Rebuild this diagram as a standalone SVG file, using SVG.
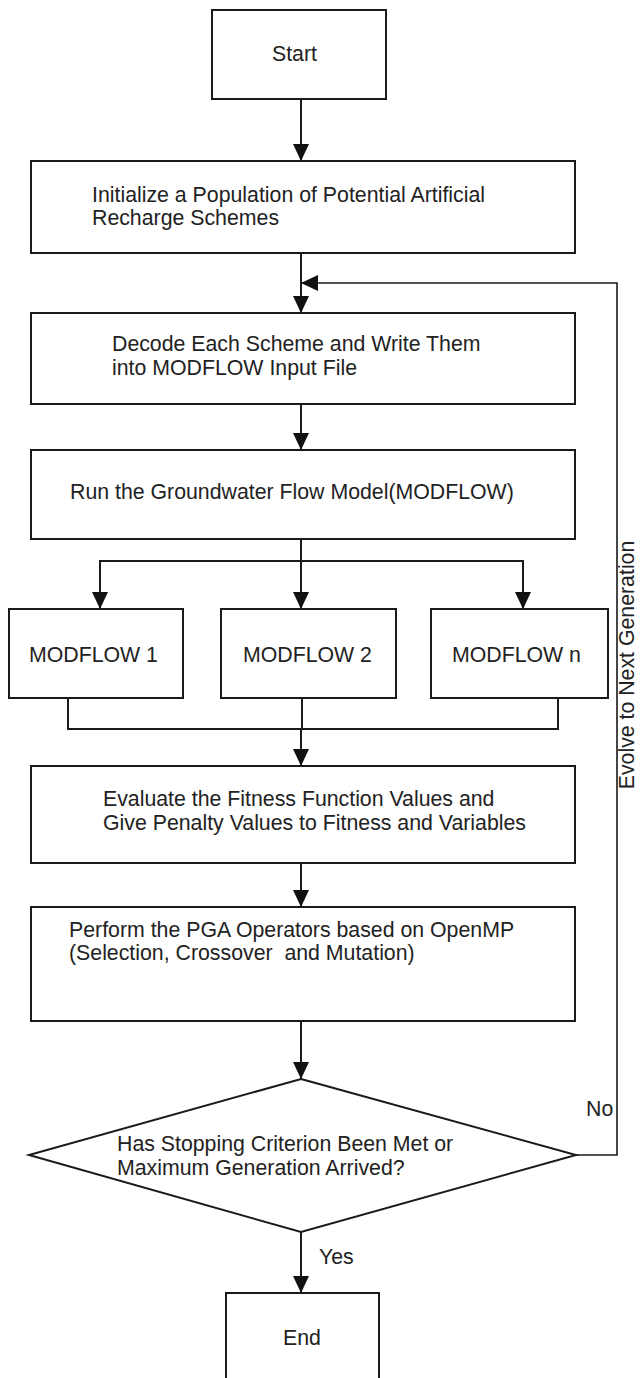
<svg xmlns="http://www.w3.org/2000/svg" width="644" height="1378" viewBox="0 0 644 1378">
<defs>
<style>
.box{fill:#fff;stroke:#1a1a1a;stroke-width:2}
.ln{fill:none;stroke:#1a1a1a;stroke-width:2}
.fb{fill:none;stroke:#1a1a1a;stroke-width:1.6}
.t{font-family:"Liberation Sans",Arial,sans-serif;font-size:21.3px;fill:#222;white-space:pre}
</style>
<marker id="ah" markerUnits="userSpaceOnUse" markerWidth="17" markerHeight="16" refX="17" refY="8" orient="auto" viewBox="0 0 17 16">
<path d="M0,0 L17,8 L0,16 z" fill="#111"/>
</marker>
</defs>
<rect width="644" height="1378" fill="#fff"/>
<g id="connectors">
<line class="ln" x1="301" y1="99" x2="301" y2="161" marker-end="url(#ah)"/>
<line class="ln" x1="301" y1="253" x2="301" y2="313" marker-end="url(#ah)"/>
<polyline class="fb" points="576,1155 617,1155 617,283 301,283" marker-end="url(#ah)"/>
<line class="ln" x1="301" y1="404" x2="301" y2="450" marker-end="url(#ah)"/>
<line class="ln" x1="301" y1="539" x2="301" y2="609" marker-end="url(#ah)"/>
<polyline class="ln" points="100,609 100,561 523,561 523,609"/>
<line class="ln" x1="100" y1="561" x2="100" y2="609" marker-end="url(#ah)"/>
<line class="ln" x1="523" y1="561" x2="523" y2="609" marker-end="url(#ah)"/>
<polyline class="ln" points="68,698 68,729 558,729 558,698"/>
<line class="ln" x1="302" y1="698" x2="302" y2="729"/>
<line class="ln" x1="301" y1="729" x2="301" y2="766" marker-end="url(#ah)"/>
<line class="ln" x1="301" y1="863" x2="301" y2="907" marker-end="url(#ah)"/>
<line class="ln" x1="301" y1="1021" x2="301" y2="1079" marker-end="url(#ah)"/>
<line class="ln" x1="301" y1="1232" x2="301" y2="1293" marker-end="url(#ah)"/>
<text class="t" x="586" y="1116">No</text>
<text class="t" x="319" y="1264">Yes</text>
<text class="t" transform="translate(634,665) rotate(-90)" text-anchor="middle">Evolve to Next Generation</text>
</g>
<g id="start">
<rect class="box" x="212" y="10" width="174" height="89"/>
<text class="t" x="272" y="61">Start</text>
</g>
<g id="init">
<rect class="box" x="31" y="161" width="544" height="92"/>
<text class="t" x="92" y="202">Initialize a Population of Potential Artificial</text>
<text class="t" x="92" y="225">Recharge Schemes</text>
</g>
<g id="decode">
<rect class="box" x="31" y="313" width="544" height="91"/>
<text class="t" x="112" y="351">Decode Each Scheme and Write Them</text>
<text class="t" x="112" y="375">into MODFLOW Input File</text>
</g>
<g id="run">
<rect class="box" x="31" y="450" width="544" height="89"/>
<text class="t" x="70" y="499">Run the Groundwater Flow Model(MODFLOW)</text>
</g>
<g id="modflow1">
<rect class="box" x="9" y="609" width="174" height="89"/>
<text class="t" x="29" y="662">MODFLOW 1</text>
</g>
<g id="modflow2">
<rect class="box" x="221" y="609" width="175" height="89"/>
<text class="t" x="243" y="662">MODFLOW 2</text>
</g>
<g id="modflown">
<rect class="box" x="431" y="609" width="177" height="89"/>
<text class="t" x="452" y="662">MODFLOW n</text>
</g>
<g id="evaluate">
<rect class="box" x="31" y="766" width="544" height="97"/>
<text class="t" x="103" y="806">Evaluate the Fitness Function Values and</text>
<text class="t" x="103" y="830">Give Penalty Values to Fitness and Variables</text>
</g>
<g id="perform">
<rect class="box" x="31" y="907" width="544" height="114"/>
<text class="t" x="69" y="937">Perform the PGA Operators based on OpenMP</text>
<text class="t" x="69" y="960">(Selection, Crossover  and Mutation)</text>
</g>
<g id="decision">
<polygon class="box" points="301,1079 576,1155 301,1232 29,1155"/>
<text class="t" x="117" y="1151">Has Stopping Criterion Been Met or</text>
<text class="t" x="117" y="1175">Maximum Generation Arrived?</text>
</g>
<g id="end">
<rect class="box" x="226" y="1293" width="153" height="100"/>
<text class="t" x="283" y="1345">End</text>
</g>
</svg>
